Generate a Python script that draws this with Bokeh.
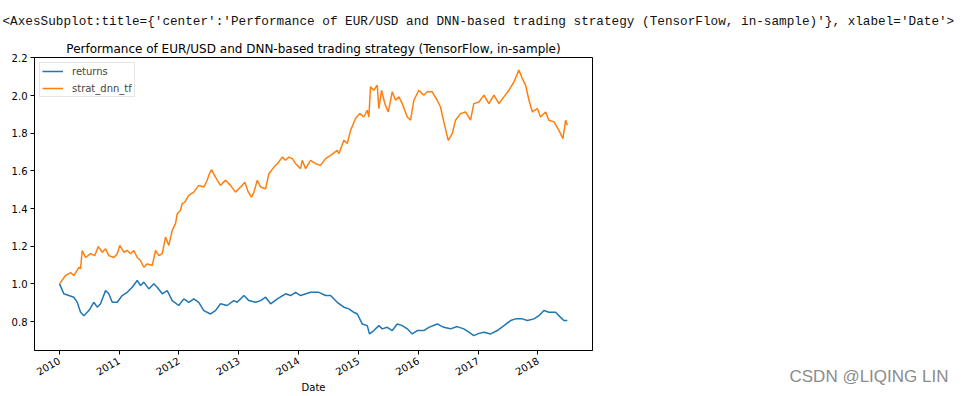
import math
import pandas as pd
from bokeh.plotting import figure
from bokeh.models import Range1d, FixedTicker, DatetimeTickFormatter, Label, PrintfTickFormatter, Title
from bokeh.embed import file_html
from bokeh.resources import INLINE

# ---- data (decimal years, cumulative performance) ----
ret_years = [2010.005, 2010.077, 2010.160, 2010.244, 2010.301, 2010.356, 2010.411, 2010.495, 2010.578, 2010.635,
             2010.690, 2010.774, 2010.829, 2010.886, 2010.969, 2011.053, 2011.137, 2011.220, 2011.304, 2011.359,
             2011.414, 2011.498, 2011.581, 2011.638, 2011.722, 2011.805, 2011.889, 2011.999, 2012.083, 2012.166,
             2012.250, 2012.333, 2012.417, 2012.529, 2012.612, 2012.696, 2012.808, 2012.918, 2012.975, 2013.085,
             2013.169, 2013.281, 2013.365, 2013.448, 2013.532, 2013.644, 2013.782, 2013.866, 2013.950, 2014.033,
             2014.200, 2014.339, 2014.451, 2014.534, 2014.646, 2014.757, 2014.840, 2014.924, 2014.981, 2015.064,
             2015.148, 2015.186, 2015.258, 2015.342, 2015.399, 2015.482, 2015.566, 2015.649, 2015.733, 2015.817,
             2015.900, 2015.984, 2016.094, 2016.178, 2016.318, 2016.428, 2016.540, 2016.652, 2016.762, 2016.846,
             2016.930, 2017.013, 2017.097, 2017.209, 2017.320, 2017.431, 2017.543, 2017.626, 2017.738, 2017.822,
             2017.932, 2018.016, 2018.100, 2018.183, 2018.295, 2018.379, 2018.434, 2018.491]
returns = [1.000, 0.947, 0.938, 0.929, 0.902, 0.849, 0.831, 0.858, 0.902, 0.876,
           0.894, 0.964, 0.947, 0.902, 0.902, 0.938, 0.955, 0.982, 1.018, 0.991,
           1.009, 0.973, 1.000, 0.982, 0.947, 0.964, 0.911, 0.885, 0.920, 0.902,
           0.920, 0.902, 0.858, 0.840, 0.858, 0.894, 0.885, 0.911, 0.902, 0.938,
           0.911, 0.902, 0.911, 0.929, 0.894, 0.920, 0.947, 0.938, 0.955, 0.938,
           0.955, 0.955, 0.938, 0.938, 0.902, 0.876, 0.867, 0.849, 0.840, 0.787,
           0.778, 0.734, 0.752, 0.778, 0.761, 0.769, 0.752, 0.787, 0.778, 0.761,
           0.734, 0.752, 0.752, 0.769, 0.787, 0.769, 0.761, 0.773, 0.761, 0.743,
           0.725, 0.737, 0.743, 0.734, 0.752, 0.778, 0.805, 0.814, 0.814, 0.805,
           0.814, 0.831, 0.858, 0.849, 0.849, 0.822, 0.805, 0.805]

strat_years = [2010.005, 2010.105, 2010.190, 2010.244, 2010.328, 2010.356, 2010.384, 2010.440, 2010.523, 2010.595,
               2010.652, 2010.719, 2010.774, 2010.829, 2010.913, 2010.969, 2011.013, 2011.080, 2011.137, 2011.192,
               2011.247, 2011.304, 2011.359, 2011.414, 2011.471, 2011.554, 2011.610, 2011.665, 2011.722, 2011.777,
               2011.832, 2011.889, 2011.944, 2011.972, 2012.027, 2012.056, 2012.099, 2012.166, 2012.250, 2012.333,
               2012.417, 2012.474, 2012.500, 2012.546, 2012.612, 2012.696, 2012.780, 2012.863, 2012.947, 2013.030,
               2013.102, 2013.159, 2013.214, 2013.253, 2013.309, 2013.365, 2013.448, 2013.503, 2013.587, 2013.644,
               2013.727, 2013.782, 2013.838, 2013.894, 2013.950, 2014.033, 2014.061, 2014.117, 2014.200, 2014.284,
               2014.367, 2014.451, 2014.534, 2014.646, 2014.673, 2014.757, 2014.814, 2014.869, 2014.952, 2015.024,
               2015.091, 2015.148, 2015.175, 2015.203, 2015.258, 2015.315, 2015.342, 2015.387, 2015.442, 2015.499,
               2015.566, 2015.621, 2015.676, 2015.733, 2015.817, 2015.872, 2015.927, 2016.011, 2016.094, 2016.151,
               2016.234, 2016.318, 2016.373, 2016.428, 2016.502, 2016.569, 2016.624, 2016.707, 2016.791, 2016.875,
               2016.930, 2017.013, 2017.097, 2017.180, 2017.264, 2017.347, 2017.431, 2017.514, 2017.598, 2017.681,
               2017.738, 2017.793, 2017.849, 2017.906, 2017.989, 2018.044, 2018.128, 2018.183, 2018.267, 2018.351,
               2018.418, 2018.463, 2018.491]
strat_dnn_tf = [1.000, 1.044, 1.060, 1.044, 1.088, 1.080, 1.177, 1.140, 1.160, 1.150,
                1.198, 1.168, 1.186, 1.150, 1.140, 1.160, 1.204, 1.168, 1.177, 1.160,
                1.177, 1.140, 1.124, 1.088, 1.106, 1.097, 1.177, 1.150, 1.160, 1.248,
                1.204, 1.284, 1.320, 1.372, 1.390, 1.426, 1.434, 1.470, 1.487, 1.523,
                1.514, 1.550, 1.576, 1.606, 1.567, 1.523, 1.550, 1.523, 1.487, 1.514,
                1.540, 1.487, 1.460, 1.487, 1.550, 1.514, 1.505, 1.585, 1.620, 1.638,
                1.673, 1.656, 1.673, 1.665, 1.638, 1.612, 1.656, 1.612, 1.656, 1.638,
                1.629, 1.665, 1.682, 1.709, 1.691, 1.762, 1.745, 1.815, 1.878, 1.904,
                1.886, 1.922, 1.886, 2.046, 2.028, 2.055, 1.931, 2.028, 1.957, 1.913,
                2.020, 1.975, 1.993, 1.957, 1.886, 1.869, 1.975, 2.028, 2.002, 2.020,
                2.020, 1.975, 1.939, 1.860, 1.762, 1.798, 1.869, 1.904, 1.913, 1.869,
                1.957, 1.966, 2.002, 1.957, 2.002, 1.957, 1.993, 2.028, 2.072, 2.135,
                2.090, 2.055, 1.975, 1.913, 1.931, 1.886, 1.913, 1.869, 1.860, 1.815,
                1.771, 1.869, 1.842]

tick_years = [2010, 2011, 2012, 2013, 2014, 2015, 2016, 2017, 2018]
y_ticks = [0.8, 1.0, 1.2, 1.4, 1.6, 1.8, 2.0, 2.2]

title_text = "Performance of EUR/USD and DNN-based trading strategy (TensorFlow, in-sample)"
header_text = ("<AxesSubplot:title={'center':'Performance of EUR/USD and DNN-based trading strategy "
               "(TensorFlow, in-sample)'}, xlabel='Date'>")
watermark = "CSDN @LIQING LIN"


def to_dt(y):
    yr = int(y)
    return pd.Timestamp(yr, 1, 1) + pd.Timedelta(days=(y - yr) * 365.25)


ret_x = [to_dt(v) for v in ret_years]
strat_x = [to_dt(v) for v in strat_years]

p = figure(width=967, height=396, x_axis_type="datetime", output_backend="svg",
           toolbar_location=None,
           x_range=Range1d(pd.Timestamp(2009, 8, 3), pd.Timestamp(2018, 11, 30)),
           y_range=Range1d(0.646, 2.202),
           min_border_left=34, min_border_right=375, min_border_top=57, min_border_bottom=46)

p.line(ret_x, returns, line_color="#1f77b4", line_width=1.5, legend_label="returns")
p.line(strat_x, strat_dnn_tf, line_color="#ff7f0e", line_width=1.5, legend_label="strat_dnn_tf")

p.xgrid.visible = False
p.ygrid.visible = False
p.outline_line_color = "black"
p.outline_line_width = 1
p.background_fill_color = "white"
p.border_fill_color = "white"

for ax in (p.xaxis[0], p.yaxis[0]):
    ax.axis_line_color = "black"
    ax.major_tick_out = 4
    ax.major_tick_in = 0
    ax.minor_tick_out = 0
    ax.minor_tick_in = 0
    ax.major_tick_line_color = "black"
    ax.major_label_text_font = "DejaVu Sans"
    ax.major_label_text_font_size = "10px"
    ax.major_label_text_color = "black"
    ax.major_label_standoff = 3

p.yaxis[0].ticker = FixedTicker(ticks=y_ticks)
p.yaxis[0].formatter = PrintfTickFormatter(format="%.1f")

p.xaxis[0].ticker = FixedTicker(ticks=[pd.Timestamp(y, 1, 1).timestamp() * 1000 for y in tick_years])
p.xaxis[0].formatter = DatetimeTickFormatter(years="%Y", months="%Y", days="%Y", hours="%Y",
                                             minutes="%Y", seconds="%Y", milliseconds="%Y")
p.xaxis[0].major_label_orientation = math.pi / 6
p.xaxis[0].major_label_standoff = 5
p.xaxis[0].axis_label = "Date"
p.xaxis[0].axis_label_text_font = "DejaVu Sans"
p.xaxis[0].axis_label_text_font_size = "10px"
p.xaxis[0].axis_label_text_font_style = "normal"
p.xaxis[0].axis_label_text_color = "black"
p.xaxis[0].axis_label_standoff = 0

lg = p.legend[0]
lg.location = "top_left"
lg.margin = 5
lg.padding = 2
lg.spacing = 5
lg.label_height = 12
lg.glyph_height = 12
lg.glyph_width = 21
lg.label_standoff = 9
lg.label_text_font = "DejaVu Sans"
lg.label_text_font_size = "10px"
lg.border_line_color = "#cccccc"
lg.border_line_width = 1
lg.background_fill_alpha = 0.8

# chart title (nearest to the frame), then the notebook output line above it
p.add_layout(Title(text=title_text, align="center", text_font="DejaVu Sans", text_font_size="12px",
                   text_font_style="normal", text_color="black", standoff=3), "above")
p.add_layout(Title(text=header_text, align="left", offset=-32, text_font="Liberation Mono",
                   text_font_size="12.7px", text_font_style="normal", text_color="#111111",
                   standoff=19), "above")

# watermark in the right side panel (not clipped to the frame)
p.add_layout(Label(x=197, y=-26, x_units="screen", y_units="screen", text=watermark,
                   text_font="Liberation Sans", text_font_size="17px", text_color="#8c8c8c",
                   text_align="left", text_baseline="middle"), "right")

open("out.html", "w").write(file_html(p, INLINE))
